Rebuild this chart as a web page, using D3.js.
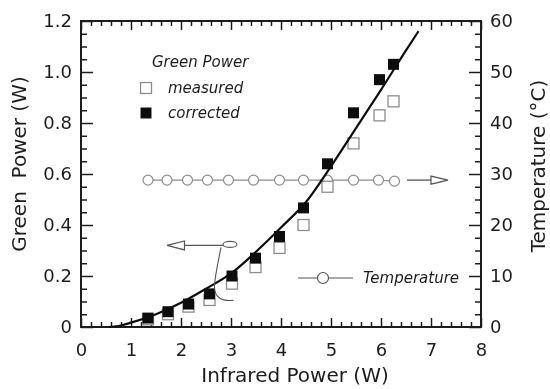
<!DOCTYPE html>
<html>
<head>
<meta charset="utf-8">
<script src="https://cdn.jsdelivr.net/npm/d3@7"></script>
<style>
  html, body { margin: 0; padding: 0; background: #fff; }
  svg { display: block; }
  text { font-family: "DejaVu Sans", "Liberation Sans", sans-serif; fill: #1e1e1e; }
</style>
</head>
<body>
<svg id="chart" width="550" height="389"></svg>
<script>
// Infrared pump power (W) for each measurement
const pumpPower = [1.34, 1.74, 2.15, 2.57, 3.02, 3.49, 3.97, 4.45, 4.93, 5.45, 5.97, 6.25];
// Green output power (W)
const greenMeasured  = [0.03, 0.05, 0.08, 0.106, 0.17, 0.235, 0.31, 0.40, 0.55, 0.72, 0.83, 0.885];
const greenCorrected = [0.035, 0.06, 0.09, 0.13, 0.20, 0.27, 0.355, 0.467, 0.64, 0.84, 0.97, 1.03];
// Crystal temperature (°C) recorded at each pump power
const tempPower = [1.34, 1.72, 2.13, 2.53, 2.95, 3.45, 3.97, 4.45, 4.93, 5.45, 5.95, 6.27];
const temperature = [28.8, 28.8, 28.8, 28.8, 28.8, 28.8, 28.8, 28.8, 28.8, 28.8, 28.8, 28.6];
// Fitted trend of the green power
const fitPower = [0.55, 0.8, 1.0, 1.5, 2.0, 2.5, 3.0, 3.5, 4.0, 4.5, 5.0, 5.5, 6.0, 6.5, 6.75];
const fitGreen = [0, 0.006, 0.017, 0.05, 0.095, 0.15, 0.21, 0.295, 0.39, 0.49, 0.63, 0.78, 0.93, 1.085, 1.16];
// Axis ticks
const xTicks = [0, 1, 2, 3, 4, 5, 6, 7, 8];
const yTicks = [0, 0.2, 0.4, 0.6, 0.8, 1.0, 1.2];
const tTicks = [0, 10, 20, 30, 40, 50, 60];

const svg = d3.select("#chart");
const L = 81, R = 481, T = 21, B = 327;

const x = d3.scaleLinear().domain([0, 8]).range([L, R]);
const y = d3.scaleLinear().domain([0, 1.2]).range([B, T]);
const yT = d3.scaleLinear().domain([0, 60]).range([B, T]);

// soft focus, as in a scanned figure
const defs = svg.append("defs");
defs.append("filter").attr("id", "soft")
  .append("feGaussianBlur").attr("stdDeviation", 0.45);

const g = svg.append("g").attr("filter", "url(#soft)");

const minorOf = (lo, hi, step, majors) => d3.range(lo, hi + step / 2, step)
  .map(v => +v.toFixed(4))
  .filter(v => !majors.some(m => Math.abs(m - v) < 1e-6));

function styleAxis(sel) {
  sel.select(".domain").remove();
  sel.selectAll(".tick line").attr("stroke", "#1e1e1e").attr("stroke-width", 1.5);
  sel.selectAll(".tick text").style("font-size", "18px").attr("fill", "#1e1e1e");
}

// bottom axis
g.append("g").attr("transform", `translate(0,${B})`)
  .call(d3.axisBottom(x).tickValues(xTicks).tickSize(-9).tickPadding(16).tickFormat(d3.format("d")))
  .call(styleAxis);
g.append("g").attr("transform", `translate(0,${B})`)
  .call(d3.axisBottom(x).tickValues(minorOf(0, 8, 0.2, xTicks)).tickSize(-5).tickFormat(""))
  .call(styleAxis);
// top axis
g.append("g").attr("transform", `translate(0,${T})`)
  .call(d3.axisTop(x).tickValues(xTicks).tickSize(-9).tickFormat(""))
  .call(styleAxis);
g.append("g").attr("transform", `translate(0,${T})`)
  .call(d3.axisTop(x).tickValues(minorOf(0, 8, 0.2, xTicks)).tickSize(-5).tickFormat(""))
  .call(styleAxis);
// left axis
g.append("g").attr("transform", `translate(${L},0)`)
  .call(d3.axisLeft(y).tickValues(yTicks).tickSize(-12).tickPadding(9)
    .tickFormat(d => d === 0 ? "0" : d3.format(".1f")(d)))
  .call(styleAxis);
g.append("g").attr("transform", `translate(${L},0)`)
  .call(d3.axisLeft(y).tickValues(minorOf(0, 1.2, 0.05, yTicks)).tickSize(-6).tickFormat(""))
  .call(styleAxis);
// right axis
g.append("g").attr("transform", `translate(${R},0)`)
  .call(d3.axisRight(yT).tickValues(tTicks).tickSize(-12).tickPadding(9).tickFormat(d3.format("d")))
  .call(styleAxis);
g.append("g").attr("transform", `translate(${R},0)`)
  .call(d3.axisRight(yT).tickValues(minorOf(0, 60, 2.5, tTicks)).tickSize(-6).tickFormat(""))
  .call(styleAxis);

// frame
g.append("rect").attr("x", L).attr("y", T).attr("width", R - L).attr("height", B - T)
  .attr("fill", "none").attr("stroke", "#1e1e1e").attr("stroke-width", 2);

// axis titles
g.append("text").attr("x", 295).attr("y", 382).attr("text-anchor", "middle")
  .style("font-size", "20px").text("Infrared Power (W)");
g.append("text").attr("transform", "translate(26,164) rotate(-90)").attr("text-anchor", "middle")
  .style("font-size", "20px").attr("xml:space", "preserve").text("Green  Power (W)");
g.append("text").attr("transform", "translate(545,166) rotate(-90)").attr("text-anchor", "middle")
  .style("font-size", "20px").text("Temperature (°C)");

const grey = "#8c8c8c";

// temperature series
g.append("path")
  .attr("d", d3.line().x((d, i) => x(tempPower[i])).y(d => yT(d))(temperature))
  .attr("fill", "none").attr("stroke", grey).attr("stroke-width", 1.2);
g.selectAll("circle.temp").data(temperature).join("circle").attr("class", "temp")
  .attr("cx", (d, i) => x(tempPower[i])).attr("cy", d => yT(d)).attr("r", 5)
  .attr("fill", "#fff").attr("stroke", grey).attr("stroke-width", 1.2);

// measured (open squares)
const sq = 11;
g.selectAll("rect.meas").data(greenMeasured).join("rect").attr("class", "meas")
  .attr("x", (d, i) => x(pumpPower[i]) - sq / 2).attr("y", d => y(d) - sq / 2)
  .attr("width", sq).attr("height", sq)
  .attr("fill", "#fff").attr("stroke", grey).attr("stroke-width", 1.3);
// corrected (filled squares)
g.selectAll("rect.corr").data(greenCorrected).join("rect").attr("class", "corr")
  .attr("x", (d, i) => x(pumpPower[i]) - sq / 2).attr("y", d => y(d) - sq / 2)
  .attr("width", sq).attr("height", sq).attr("fill", "#111");

// fit curve
g.append("path")
  .attr("d", d3.line().x((d, i) => x(fitPower[i])).y(d => y(d)).curve(d3.curveMonotoneX)(fitGreen))
  .attr("fill", "none").attr("stroke", "#111").attr("stroke-width", 2.2);

// arrow to the right-hand (temperature) axis
const ay = yT(28.8);
g.append("line").attr("x1", x(6.52)).attr("x2", x(7.0)).attr("y1", ay).attr("y2", ay)
  .attr("stroke", "#555").attr("stroke-width", 1.3);
g.append("path")
  .attr("d", `M${x(7.0)},${ay - 2} L${x(7.0)},${ay - 4} L${x(7.34)},${ay} L${x(7.0)},${ay + 4} L${x(7.0)},${ay + 2} Z`)
  .attr("fill", "#fff").attr("stroke", "#555").attr("stroke-width", 1.2);

// arrow to the left-hand (green power) axis
const ly = y(0.32);
g.append("line").attr("x1", x(2.07)).attr("x2", x(2.86)).attr("y1", ly).attr("y2", ly)
  .attr("stroke", "#555").attr("stroke-width", 1.2);
g.append("path")
  .attr("d", `M${x(2.07)},${ly - 2} L${x(2.07)},${ly - 4.5} L${x(1.72)},${ly} L${x(2.07)},${ly + 4.5} L${x(2.07)},${ly + 2} Z`)
  .attr("fill", "#fff").attr("stroke", "#555").attr("stroke-width", 1.2);
g.append("ellipse").attr("cx", x(2.98)).attr("cy", ly - 1).attr("rx", 7).attr("ry", 3)
  .attr("fill", "#fff").attr("stroke", "#555").attr("stroke-width", 1.1);
g.append("path")
  .attr("d", `M${x(2.8)},${ly + 2} C${x(2.75)},${ly + 15} ${x(2.68)},${ly + 30} ${x(2.67)},${ly + 40} C${x(2.66)},${ly + 52} ${x(2.8)},${ly + 56} ${x(3.05)},${ly + 55}`)
  .attr("fill", "none").attr("stroke", "#555").attr("stroke-width", 1.1);

// legend: green power
g.append("text").attr("x", 152).attr("y", 67).style("font-size", "15px").style("font-style", "italic")
  .text("Green Power");
g.append("rect").attr("x", 146 - sq / 2).attr("y", 88 - sq / 2).attr("width", sq).attr("height", sq)
  .attr("fill", "#fff").attr("stroke", grey).attr("stroke-width", 1.3);
g.append("text").attr("x", 168).attr("y", 93).style("font-size", "15px").style("font-style", "italic")
  .text("measured");
g.append("rect").attr("x", 146 - sq / 2).attr("y", 113 - sq / 2).attr("width", sq).attr("height", sq)
  .attr("fill", "#111");
g.append("text").attr("x", 168).attr("y", 118).style("font-size", "15px").style("font-style", "italic")
  .text("corrected");

// legend: temperature
g.append("line").attr("x1", 298).attr("x2", 353).attr("y1", 278).attr("y2", 278)
  .attr("stroke", "#555").attr("stroke-width", 1.2);
g.append("circle").attr("cx", 323).attr("cy", 278).attr("r", 5.5)
  .attr("fill", "#fff").attr("stroke", "#555").attr("stroke-width", 1.2);
g.append("text").attr("x", 363).attr("y", 283).style("font-size", "15px").style("font-style", "italic")
  .text("Temperature");
</script>
</body>
</html>
